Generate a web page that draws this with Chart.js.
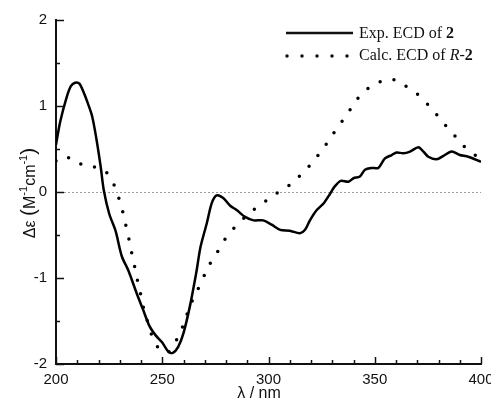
<!DOCTYPE html>
<html>
<head>
<meta charset="utf-8">
<script src="https://cdn.jsdelivr.net/npm/chart.js@4.4.0/dist/chart.umd.min.js"></script>
<style>
  body { margin: 0; background: #fff; }
  #wrap { width: 491px; height: 402px; }
</style>
</head>
<body>
<div id="wrap"><canvas id="ecdChart"></canvas></div>
<script>
// wavelengths (nm) and delta epsilon values
var expWl = [200, 202, 205, 207, 209, 211, 213, 215, 217, 219, 221, 222.5, 225, 228, 231, 234, 238, 241, 244, 247, 250, 253, 255, 257.5, 260, 263, 266, 268, 271, 273.3, 275.6, 278.7, 282, 285, 289, 293, 297.5, 301.5, 305.5, 310, 314.8, 317.2, 319.5, 322.7, 326, 329, 331, 334, 337.6, 340, 343, 345.4, 348.6, 351.7, 354.8, 358, 360.3, 363.4, 366.6, 370.5, 372.9, 375.2, 379.1, 382.3, 386.2, 390, 394, 400];
var expVal = [0.55, 0.82, 1.10, 1.23, 1.27, 1.26, 1.16, 1.03, 0.88, 0.62, 0.30, 0.02, -0.25, -0.45, -0.75, -0.91, -1.18, -1.37, -1.56, -1.67, -1.75, -1.86, -1.87, -1.80, -1.64, -1.33, -0.94, -0.64, -0.36, -0.13, -0.04, -0.07, -0.16, -0.21, -0.29, -0.33, -0.33, -0.38, -0.44, -0.45, -0.48, -0.44, -0.33, -0.21, -0.13, -0.02, 0.06, 0.13, 0.12, 0.16, 0.18, 0.26, 0.28, 0.28, 0.39, 0.43, 0.46, 0.45, 0.47, 0.52, 0.47, 0.41, 0.38, 0.42, 0.47, 0.43, 0.41, 0.35];

var calcWl = [200, 203, 205, 210, 214, 218, 222, 225, 227, 229, 231, 232.5, 234, 235.3, 236.7, 238, 239.5, 241, 243, 245, 247.5, 250.5, 253, 256, 259.2, 263.5, 267, 269.6, 272.8, 276.4, 279.5, 283.4, 287.8, 292.8, 297.9, 302.7, 307.8, 312.5, 317, 321.4, 325.3, 328.9, 332.5, 336.3, 339.9, 343.8, 348.6, 354.5, 357.5, 360.8, 365.3, 370.5, 374.9, 379.1, 383.5, 387.8, 392.1, 397.2, 400];
var calcVal = [0.36, 0.41, 0.41, 0.34, 0.31, 0.29, 0.26, 0.19, 0.10, -0.03, -0.19, -0.35, -0.51, -0.67, -0.83, -0.99, -1.15, -1.33, -1.50, -1.66, -1.79, -1.86, -1.86, -1.75, -1.59, -1.30, -1.12, -0.98, -0.82, -0.68, -0.55, -0.43, -0.32, -0.21, -0.12, -0.03, 0.04, 0.14, 0.24, 0.37, 0.49, 0.62, 0.75, 0.88, 1.01, 1.14, 1.23, 1.30, 1.31, 1.29, 1.22, 1.13, 1.02, 0.90, 0.77, 0.65, 0.53, 0.43, 0.38];

var xTicks = [200, 250, 300, 350, 400];
var yTicks = [-2, -1, 0, 1, 2];

function toPoints(xs, ys) {
    var pts = [];
    for (var i = 0; i < xs.length; i++) pts.push({x: xs[i], y: ys[i]});
    return pts;
}

var sans = '"Liberation Sans", Arial, sans-serif';
var serif = '"Liberation Serif", "Times New Roman", serif';

// draws runs of text with their own font, optional vertical shift
function drawRuns(ctx, runs, x, y) {
    runs.forEach(function (r) {
        ctx.font = r.font;
        ctx.fillText(r.t, x, y - (r.up || 0));
        x += ctx.measureText(r.t).width;
    });
}
function runsWidth(ctx, runs) {
    var w = 0;
    runs.forEach(function (r) { ctx.font = r.font; w += ctx.measureText(r.t).width; });
    return w;
}

var axisDeco = {
    id: 'axisDeco',
    beforeDatasetsDraw: function (chart) {
        var ctx = chart.ctx, a = chart.chartArea;
        var y0 = chart.scales.y.getPixelForValue(0);
        ctx.save();
        ctx.strokeStyle = '#9a9a9a';
        ctx.lineWidth = 1;
        ctx.setLineDash([2, 2]);
        ctx.beginPath();
        ctx.moveTo(a.left, y0 + 0.5);
        ctx.lineTo(a.right, y0 + 0.5);
        ctx.stroke();
        ctx.restore();
    },
    afterDraw: function (chart) {
        var ctx = chart.ctx, a = chart.chartArea;
        var xs = chart.scales.x, ys = chart.scales.y;
        ctx.save();
        ctx.strokeStyle = '#111';
        ctx.fillStyle = '#111';
        ctx.lineWidth = 1.5;

        // inward ticks, x
        for (var v = 200; v <= 400; v += 10) {
            var px = Math.round(xs.getPixelForValue(v)) + 0.5;
            var len = (v % 50 === 0) ? 7 : 4;
            ctx.beginPath();
            ctx.moveTo(px, a.bottom);
            ctx.lineTo(px, a.bottom - len);
            ctx.stroke();
        }
        // inward ticks, y
        for (var w = -2; w <= 2; w += 0.5) {
            var py = Math.round(ys.getPixelForValue(w)) + 0.5;
            var l = (w % 1 === 0) ? 8 : 4;
            ctx.beginPath();
            ctx.moveTo(a.left, py);
            ctx.lineTo(a.left + l, py);
            ctx.stroke();
        }

        ctx.font = '15px ' + sans;
        ctx.textAlign = 'center';
        ctx.textBaseline = 'top';
        xTicks.forEach(function (t) {
            ctx.fillText(String(t), xs.getPixelForValue(t), a.bottom + 8);
        });
        ctx.textAlign = 'right';
        ctx.textBaseline = 'middle';
        yTicks.forEach(function (t) {
            ctx.fillText(String(t), a.left - 9, ys.getPixelForValue(t));
        });

        // axis titles
        ctx.textAlign = 'center';
        ctx.textBaseline = 'alphabetic';
        ctx.font = '16px ' + sans;
        ctx.fillText('\u03bb / nm', 259, 398);

        var yRuns = [
            {t: '\u0394\u03b5 ', font: '16px ' + sans},
            {t: '(', font: '21px ' + sans},
            {t: 'M', font: '16px ' + sans},
            {t: '-1', font: '11px ' + sans, up: 8},
            {t: 'cm', font: '16px ' + sans},
            {t: '-1', font: '11px ' + sans, up: 8},
            {t: ')', font: '21px ' + sans}
        ];
        ctx.save();
        ctx.translate(35, 193);
        ctx.rotate(-Math.PI / 2);
        ctx.textAlign = 'left';
        drawRuns(ctx, yRuns, -runsWidth(ctx, yRuns) / 2, 0);
        ctx.restore();

        // legend
        ctx.textAlign = 'left';
        ctx.textBaseline = 'alphabetic';
        ctx.lineWidth = 2.5;
        ctx.beginPath();
        ctx.moveTo(286, 33);
        ctx.lineTo(353, 33);
        ctx.stroke();
        ctx.save();
        ctx.lineWidth = 3.5;
        ctx.lineCap = 'round';
        ctx.setLineDash([0, 15]);
        ctx.beginPath();
        ctx.moveTo(287, 56);
        ctx.lineTo(350, 56);
        ctx.stroke();
        ctx.restore();
        drawRuns(ctx, [
            {t: 'Exp. ECD of ', font: '16px ' + serif},
            {t: '2', font: 'bold 16px ' + serif}
        ], 359, 38);
        drawRuns(ctx, [
            {t: 'Calc. ECD of ', font: '16px ' + serif},
            {t: 'R', font: 'italic 16px ' + serif},
            {t: '-', font: '16px ' + serif},
            {t: '2', font: 'bold 16px ' + serif}
        ], 359, 60);
        ctx.restore();
    }
};

var ecd = document.getElementById("ecdChart");
var ecdChart = new Chart(ecd, {
    type: 'line',
    data: {
        datasets: [{
            label: 'Exp. ECD of 2',
            data: toPoints(expWl, expVal),
            borderColor: '#000',
            borderWidth: 2.5,
            pointRadius: 0,
            fill: false,
            tension: 0.3
        }, {
            label: 'Calc. ECD of R-2',
            data: toPoints(calcWl, calcVal),
            borderColor: '#000',
            borderWidth: 3.5,
            borderDash: [0, 14],
            borderCapStyle: 'round',
            pointRadius: 0,
            fill: false,
            tension: 0.4
        }]
    },
    options: {
        responsive: true,
        maintainAspectRatio: false,
        animation: false,
        layout: { padding: { top: 20, right: 10, left: 0, bottom: 0 } },
        plugins: { legend: { display: false }, tooltip: { enabled: false } },
        scales: {
            x: {
                type: 'linear', min: 200, max: 400,
                grid: { display: false, drawTicks: false },
                border: { display: true, color: '#111', width: 2 },
                ticks: { display: false },
                afterFit: function (s) { s.height = 38; }
            },
            y: {
                min: -2, max: 2,
                grid: { display: false, drawTicks: false },
                border: { display: true, color: '#111', width: 2 },
                ticks: { display: false },
                afterFit: function (s) { s.width = 56; }
            }
        }
    },
    plugins: [axisDeco]
});
</script>
</body>
</html>
